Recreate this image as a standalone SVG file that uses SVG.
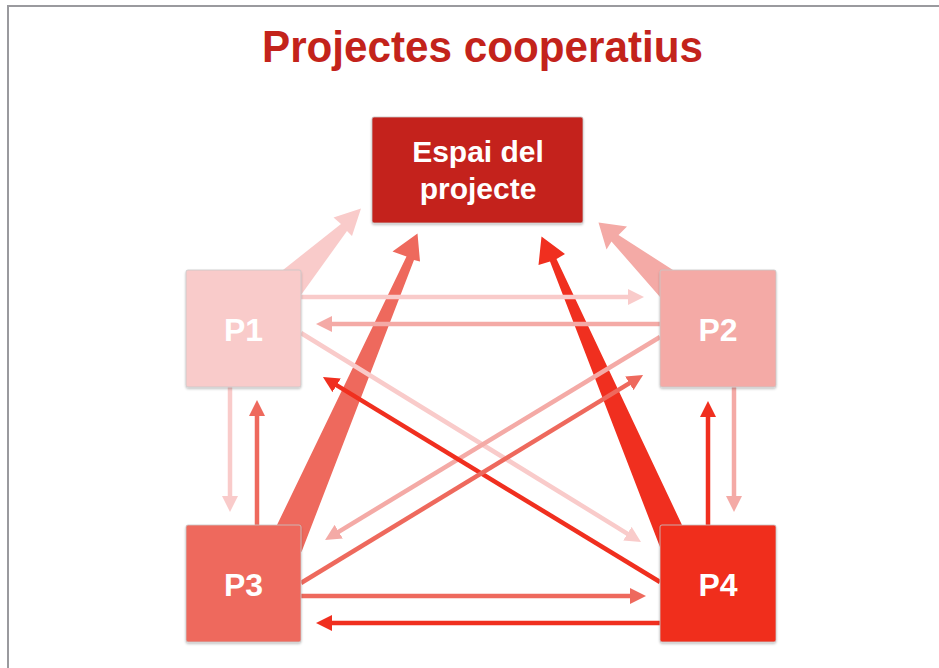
<svg xmlns="http://www.w3.org/2000/svg" width="939" height="668" viewBox="0 0 939 668">
  <defs>
    <style>
      .title { font-family: "Liberation Sans", Arial, sans-serif; font-weight: bold; fill: #c3231b; }
      .lbl { font-family: "Liberation Sans", Arial, sans-serif; font-weight: bold; fill: #ffffff; text-anchor: middle; }
      .box { stroke: #c8c8c8; stroke-width: 0.8; filter: url(#sh); }
      .ln { stroke-width: 4.5; fill: none; }
      .c1 { stroke: #f9cbca; } .f1 { fill: #f9cbca; }
      .c2 { stroke: #f4aaa6; } .f2 { fill: #f4aaa6; }
      .c3 { stroke: #ee695d; } .f3 { fill: #ee695d; }
      .c4 { stroke: #f02f1f; } .f4 { fill: #f02f1f; }
    </style>
    <filter id="sh" x="-10%" y="-10%" width="120%" height="125%">
      <feDropShadow dx="0" dy="1.5" stdDeviation="1" flood-color="#000" flood-opacity="0.25"/>
    </filter>
    <marker id="m1" markerUnits="userSpaceOnUse" markerWidth="16" markerHeight="16" viewBox="0 -8 16 16" refX="6" refY="0" orient="auto"><path d="M0,-8 L16,0 L0,8 z" fill="#f9cbca"/></marker>
    <marker id="m2" markerUnits="userSpaceOnUse" markerWidth="16" markerHeight="16" viewBox="0 -8 16 16" refX="6" refY="0" orient="auto"><path d="M0,-8 L16,0 L0,8 z" fill="#f4aaa6"/></marker>
    <marker id="m3" markerUnits="userSpaceOnUse" markerWidth="16" markerHeight="16" viewBox="0 -8 16 16" refX="6" refY="0" orient="auto"><path d="M0,-8 L16,0 L0,8 z" fill="#ee695d"/></marker>
    <marker id="m4" markerUnits="userSpaceOnUse" markerWidth="16" markerHeight="16" viewBox="0 -8 16 16" refX="6" refY="0" orient="auto"><path d="M0,-8 L16,0 L0,8 z" fill="#f02f1f"/></marker>
  </defs>

  <rect width="939" height="668" fill="#ffffff"/>
  <g id="frame" stroke="#9a9a9e" stroke-width="2" fill="none">
    <path d="M8,668 L8,6 L939,6"/>
  </g>

  <text class="title" x="482.5" y="62" font-size="45" text-anchor="middle" textLength="441" lengthAdjust="spacingAndGlyphs">Projectes cooperatius</text>

  <g id="connectors">
    <!-- tapered arrows to project space -->
    <polygon class="f1" points="283,270 341,224 333.5,217.5 361,208.5 352,236 347,231 301,295 290,290"/>
    <polygon class="f2" points="673,270 618.5,235 627,226.5 598.5,222.5 606.5,249.5 611.5,241.5 660,297 668,285"/>
    <polygon class="f3" points="277,525 406.5,256.5 392.5,251.5 417.5,233.5 420,261.5 414,260 301.5,552 290,540"/>
    <polygon class="f4" points="660,547 550,261.5 538.5,265 541.5,236.5 565,254 556.5,259 682,525 670,535"/>

    <!-- horizontal -->
    <line class="ln c1" x1="301" y1="297" x2="634" y2="297" marker-end="url(#m1)"/>
    <line class="ln c2" x1="660" y1="324" x2="326" y2="324" marker-end="url(#m2)"/>
    <line class="ln c3" x1="301" y1="596" x2="636" y2="596" marker-end="url(#m3)"/>
    <line class="ln c4" x1="660" y1="623" x2="326" y2="623" marker-end="url(#m4)"/>

    <!-- vertical -->
    <line class="ln c1" x1="230" y1="387" x2="230" y2="502" marker-end="url(#m1)"/>
    <line class="ln c3" x1="257" y1="525" x2="257" y2="410" marker-end="url(#m3)"/>
    <line class="ln c4" x1="708" y1="525" x2="708" y2="411" marker-end="url(#m4)"/>
    <line class="ln c2" x1="734" y1="387" x2="734" y2="502" marker-end="url(#m2)"/>

    <!-- diagonals -->
    <line class="ln c1" x1="301" y1="333" x2="632.5" y2="536.8" marker-end="url(#m1)"/>
    <line class="ln c2" x1="660" y1="337" x2="333.6" y2="534.8" marker-end="url(#m2)"/>
    <line class="ln c4" x1="660" y1="582" x2="331.5" y2="382.2" marker-end="url(#m4)"/>
    <line class="ln c3" x1="301" y1="583" x2="634.5" y2="380.2" marker-end="url(#m3)"/>
  </g>

  <g id="espai">
    <rect class="box" x="372" y="117" width="211" height="106" rx="2" fill="#c4221a"/>
    <text class="lbl" x="478" y="162" font-size="30">Espai del</text>
    <text class="lbl" x="478" y="199" font-size="30">projecte</text>
  </g>
  <g id="p1">
    <rect class="box" x="186" y="270" width="115" height="117" rx="2" fill="#f9cbca"/>
    <text class="lbl" x="243.5" y="340.5" font-size="32">P1</text>
  </g>
  <g id="p2">
    <rect class="box" x="660" y="270" width="116" height="117" rx="2" fill="#f4aaa6"/>
    <text class="lbl" x="718" y="340.5" font-size="32">P2</text>
  </g>
  <g id="p3">
    <rect class="box" x="186" y="525" width="115" height="117" rx="2" fill="#ee695d"/>
    <text class="lbl" x="243.5" y="595.5" font-size="32">P3</text>
  </g>
  <g id="p4">
    <rect class="box" x="660" y="525" width="116" height="117" rx="2" fill="#f02f1f"/>
    <text class="lbl" x="718" y="595.5" font-size="32">P4</text>
  </g>
</svg>
